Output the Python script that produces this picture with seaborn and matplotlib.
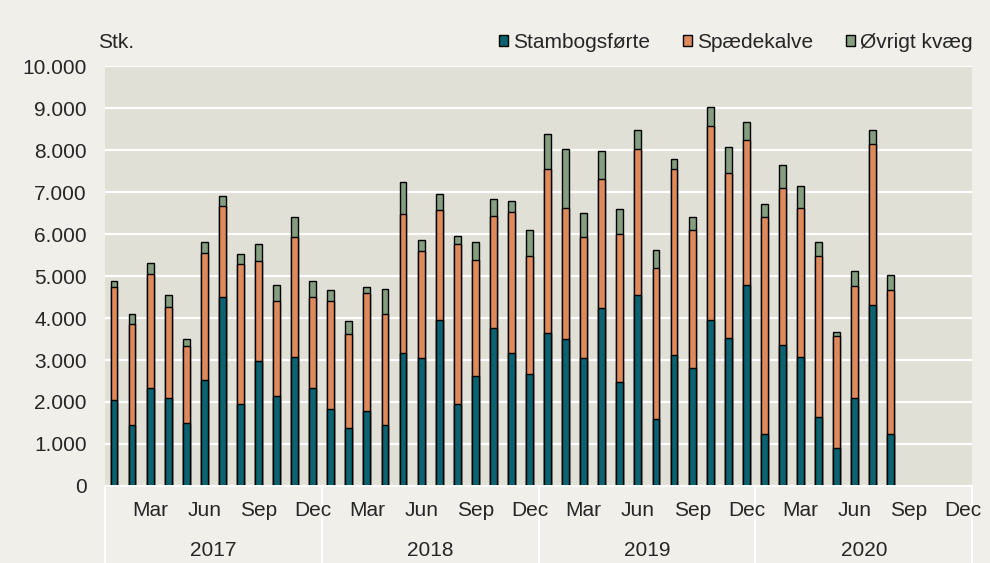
import pandas as pd
import matplotlib
matplotlib.use('Agg')
import matplotlib.pyplot as plt
import matplotlib.transforms as mtrans
from matplotlib.patches import Patch
from matplotlib.ticker import FuncFormatter
import seaborn as sns

# Monthly values Jan 2017 - Aug 2020 (stk.)
stambogsforte = [2050, 1460, 2340, 2100, 1500, 2520, 4500, 1960, 2980, 2150, 3070, 2340,
                 1830, 1370, 1780, 1460, 3160, 3040, 3950, 1960, 2620, 3770, 3170, 2670,
                 3640, 3490, 3040, 4230, 2470, 4550, 1590, 3120, 2800, 3950, 3530, 4780,
                 1230, 3350, 3080, 1640, 900, 2100, 4320, 1230]
spaedekalve = [2680, 2390, 2720, 2170, 1840, 3040, 2170, 3320, 2390, 2260, 2860, 2160,
               2580, 2260, 2810, 2630, 3330, 2570, 2630, 3800, 2760, 2670, 3370, 2800,
               3920, 3140, 2890, 3090, 3540, 3470, 3600, 4430, 3310, 4640, 3920, 3460,
               5170, 3740, 3550, 3830, 2670, 2670, 3830, 3450]
ovrigt_kvaeg = [150, 250, 250, 290, 150, 250, 250, 250, 400, 390, 480, 380,
                250, 290, 150, 610, 760, 250, 380, 200, 440, 400, 240, 620,
                840, 1410, 570, 660, 600, 470, 440, 250, 300, 450, 630, 430,
                330, 570, 520, 340, 110, 350, 340, 340]
years = [2017, 2018, 2019, 2020]
month_labels = ['Mar', 'Jun', 'Sep', 'Dec']
series_names = ['Stambogsførte', 'Spædekalve', 'Øvrigt kvæg']

colors = ['#0B6270', '#DF8A5A', '#859E80']
fig_bg = '#F0EFE9'
ax_bg = '#E0E0D6'
fs = 15

slots = [f'{y}-{m:02d}' for y in years for m in range(1, 13)]
df = pd.DataFrame({'month': slots[:len(stambogsforte)],
                   'stam': stambogsforte,
                   'spaede': spaedekalve,
                   'ovrigt': ovrigt_kvaeg})
df['lvl2'] = df['stam'] + df['spaede']
df['total'] = df['lvl2'] + df['ovrigt']

sns.set_style('whitegrid', {'axes.facecolor': ax_bg, 'figure.facecolor': fig_bg,
                            'grid.color': 'white', 'axes.edgecolor': ax_bg})
plt.rcParams['font.family'] = ['Liberation Sans', 'DejaVu Sans']

fig = plt.figure(figsize=(9.9, 5.63), dpi=100)
fig.patch.set_facecolor(fig_bg)
ax = fig.add_axes([0.106, 0.137, 0.876, 0.745])

# overlapping bars = stacked look
for col, c in zip(['total', 'lvl2', 'stam'], colors[::-1]):
    sns.barplot(data=df, x='month', y=col, order=slots, color=c, width=0.38,
                errorbar=None, edgecolor='black', linewidth=1.0, saturation=1,
                ax=ax)

ax.set_xlim(-0.5, len(slots) - 0.5)
ax.set_ylim(0, 10000)
ax.set_yticks(range(0, 10001, 1000))
ax.yaxis.set_major_formatter(FuncFormatter(lambda v, p: f'{int(v):,}'.replace(',', '.')))
ax.grid(axis='y', color='white', linewidth=1.6)
ax.grid(axis='x', visible=False)
ax.set_axisbelow(True)
ax.tick_params(axis='y', labelsize=fs, length=0, pad=13)
ax.set_xticks([])
ax.set_xlabel('')
ax.set_ylabel('')
for s in ax.spines.values():
    s.set_visible(False)

trans = mtrans.blended_transform_factory(ax.transData, ax.transAxes)
for i, y in enumerate(years):
    for j, m in enumerate(month_labels):
        ax.text(i * 12 + 2 + j * 3, -0.058, m, transform=trans, ha='center',
                va='center', fontsize=fs)
    ax.text(i * 12 + 5.5, -0.153, str(y), transform=trans, ha='center',
            va='center', fontsize=fs)
for k in range(len(years) + 1):
    ax.plot([k * 12 - 0.5] * 2, [0, -0.19], transform=trans, color='white',
            linewidth=1.4, clip_on=False)
ax.plot([-0.5, len(slots) - 0.5], [0, 0], transform=trans, color='white',
        linewidth=1.4, clip_on=False)

fig.text(0.099, 0.924, 'Stk.', fontsize=fs, ha='left', va='center')

handles = [Patch(facecolor=c, edgecolor='black', linewidth=1.0) for c in colors]
fig.legend(handles, series_names, loc='center right', bbox_to_anchor=(0.991, 0.924),
           ncol=3, frameon=False, fontsize=fs, handlelength=0.45, handleheight=0.45,
           handletextpad=0.25, columnspacing=1.55, borderaxespad=0)

fig.savefig('out.png', dpi=100, facecolor=fig_bg)
